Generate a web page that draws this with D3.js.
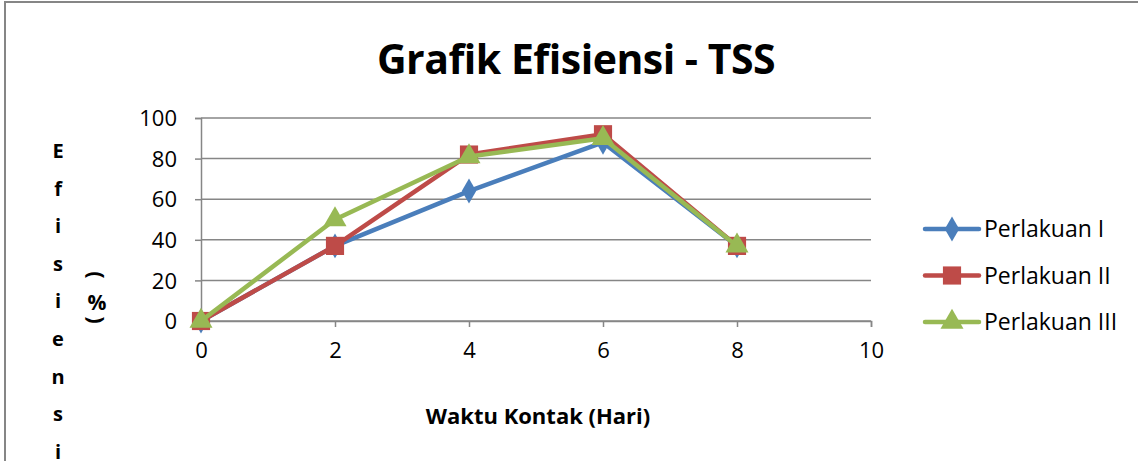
<!DOCTYPE html>
<html>
<head>
<meta charset="utf-8">
<script src="https://cdn.jsdelivr.net/npm/d3@7"></script>
<style>
  body { margin: 0; background: #fff; }
  text { font-family: "Open Sans", Lato, sans-serif; fill: #000; }
</style>
</head>
<body>
<script>
// data
var hari = [0, 2, 4, 6, 8];
var perlakuan1 = [0, 37, 64, 88, 37];
var perlakuan2 = [0, 37, 82, 92, 37];
var perlakuan3 = [0, 50, 81, 90, 37];
var seriesNames = ["Perlakuan I", "Perlakuan II", "Perlakuan III"];
var xTicks = [0, 2, 4, 6, 8, 10];
var yTicks = [0, 20, 40, 60, 80, 100];
var yLabelLetters = ["E", "f", "i", "s", "i", "e", "n", "s", "i"];

var W = 1138, H = 461;
var margin = {top: 118, right: 267, bottom: 140, left: 201},
    width = W - margin.left - margin.right,
    height = H - margin.top - margin.bottom;

var svg = d3.select("body").append("svg")
    .attr("width", W)
    .attr("height", H);

// chart border
svg.append("rect")
    .attr("x", 5).attr("y", 2)
    .attr("width", W + 10).attr("height", H + 10)
    .attr("fill", "none")
    .attr("stroke", "#868686")
    .attr("stroke-width", 2);

svg.append("text")
    .attr("x", 576).attr("y", 74)
    .attr("text-anchor", "middle")
    .attr("font-size", "41px")
    .attr("font-weight", "bold")
    .attr("letter-spacing", "-0.5px")
    .text("Grafik Efisiensi - TSS");

var g = svg.append("g")
    .attr("transform", "translate(" + margin.left + "," + margin.top + ")");

var x = d3.scaleLinear().domain([0, 10]).range([0, width]);
var y = d3.scaleLinear().domain([0, 100]).range([height, 0]);

// gridlines
g.selectAll(".grid")
    .data(yTicks)
    .enter().append("line")
    .attr("x1", 0).attr("x2", width)
    .attr("y1", function(d) { return y(d); })
    .attr("y2", function(d) { return y(d); })
    .attr("stroke", "#868686")
    .attr("stroke-width", 1.5);

// y axis
var yAxis = g.append("g")
    .call(d3.axisLeft(y).tickValues(yTicks).tickSize(6).tickPadding(18));
// x axis
var xAxis = g.append("g")
    .attr("transform", "translate(0," + height + ")")
    .call(d3.axisBottom(x).tickValues(xTicks).tickSize(6).tickPadding(15));

[yAxis, xAxis].forEach(function(a) {
  a.select(".domain").attr("stroke", "#868686").attr("stroke-width", 1.5);
  a.selectAll(".tick line").attr("stroke", "#868686").attr("stroke-width", 1.5);
  a.selectAll(".tick text").attr("font-size", "22px").attr("font-family", "'Open Sans', sans-serif").attr("fill", "#000");
});
yAxis.selectAll(".tick text").attr("dy", "0.35em");

var series = [
  {name: seriesNames[0], values: perlakuan1, color: "#4A7EBB", shape: d3.symbolDiamond, size: 180},
  {name: seriesNames[1], values: perlakuan2, color: "#BE4B48", shape: d3.symbolSquare, size: 330},
  {name: seriesNames[2], values: perlakuan3, color: "#98B954", shape: d3.symbolTriangle, size: 230}
];

var line = d3.line()
    .x(function(d) { return x(d[0]); })
    .y(function(d) { return y(d[1]); });

series.forEach(function(s) {
  var pts = hari.map(function(h, i) { return [h, s.values[i]]; });
  g.append("path")
      .datum(pts)
      .attr("d", line)
      .attr("fill", "none")
      .attr("stroke", s.color)
      .attr("stroke-width", 4.5)
      .attr("stroke-linejoin", "round");
  g.selectAll(null)
      .data(pts)
      .enter().append("path")
      .attr("d", d3.symbol().type(s.shape).size(s.size))
      .attr("transform", function(d) { return "translate(" + x(d[0]) + "," + y(d[1]) + ")"; })
      .attr("fill", s.color);
});

// axis titles
svg.append("text")
    .attr("x", 538).attr("y", 424)
    .attr("text-anchor", "middle")
    .attr("font-size", "22px")
    .attr("font-weight", "bold")
    .text("Waktu Kontak (Hari)");

svg.selectAll(".ylet")
    .data(yLabelLetters)
    .enter().append("text")
    .attr("x", 58)
    .attr("y", function(d, i) { return 158 + i * 37.6; })
    .attr("text-anchor", "middle")
    .attr("font-size", "20px")
    .attr("font-weight", "bold")
    .text(function(d) { return d; });

var pct = svg.append("g").attr("transform", "translate(97,0)");
pct.append("text")
    .attr("transform", "translate(0,275) rotate(90)")
    .attr("text-anchor", "middle").attr("dy", "0.35em")
    .attr("font-size", "22px").attr("font-weight", "bold")
    .text("(");
pct.append("text")
    .attr("x", 0).attr("y", 310)
    .attr("text-anchor", "middle")
    .attr("font-size", "21px").attr("font-weight", "bold")
    .text("%");
pct.append("text")
    .attr("transform", "translate(0,320) rotate(90)")
    .attr("text-anchor", "middle").attr("dy", "0.35em")
    .attr("font-size", "22px").attr("font-weight", "bold")
    .text(")");

// legend
var legend = svg.selectAll(".legend")
    .data(series)
    .enter().append("g")
    .attr("transform", function(d, i) { return "translate(925," + (229 + i * 46.5) + ")"; });
legend.append("line")
    .attr("x1", 0).attr("x2", 54)
    .attr("stroke", function(d) { return d.color; })
    .attr("stroke-width", 4.5)
    .attr("stroke-linecap", "round");
legend.append("path")
    .attr("d", function(d) { return d3.symbol().type(d.shape).size(d.size)(); })
    .attr("transform", "translate(27,0)")
    .attr("fill", function(d) { return d.color; });
legend.append("text")
    .attr("x", 59).attr("dy", "0.35em")
    .attr("font-size", "23px")
    .text(function(d) { return d.name; });
</script>
</body>
</html>
